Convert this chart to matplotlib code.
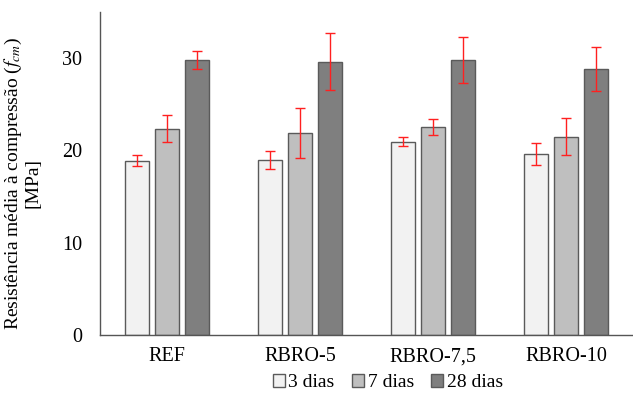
import numpy as np
import matplotlib
matplotlib.use('Agg')
import matplotlib.pyplot as plt

plt.rcParams.update({'font.family': ['Liberation Serif', 'DejaVu Serif'], 'font.size': 14,
                     'mathtext.fontset': 'stix'})

categories = ['REF', 'RBRO-5', 'RBRO-7,5', 'RBRO-10']
series = ['3 dias', '7 dias', '28 dias']
d3 = [18.85, 18.95, 20.95, 19.6]
d7 = [22.35, 21.85, 22.55, 21.45]
d28 = [29.8, 29.6, 29.8, 28.8]
e3 = [0.6, 1.0, 0.45, 1.2]
e7 = [1.5, 2.7, 0.85, 2.0]
e28 = [0.95, 3.1, 2.5, 2.4]
colors = ['#f2f2f2', '#bfbfbf', '#7f7f7f']

fig = plt.figure(figsize=(6.33, 3.94), dpi=100)
ax = fig.add_axes([0.158, 0.15, 0.842, 0.82])
x = np.arange(len(categories)) + 0.5
w = 0.18
for i, (vals, errs) in enumerate(zip([d3, d7, d28], [e3, e7, e28])):
    ax.bar(x + (i - 1) * 0.225, vals, w, color=colors[i], edgecolor='#5a5a5a', lw=1.0,
           label=series[i], zorder=2)
    ax.errorbar(x + (i - 1) * 0.225, vals, yerr=errs, fmt='none', ecolor='#ff2020',
                elinewidth=1.0, capsize=3.5, capthick=1.0, zorder=3)

ax.set_xlim(0, 4)
ax.set_ylim(0, 35)
ax.set_yticks([0, 10, 20, 30])
ax.set_xticks(x)
ax.set_xticklabels(categories, fontsize=14.5)
ax.tick_params(length=0, labelsize=14.5)
ax.tick_params(axis='y', pad=13)
ax.tick_params(axis='x', pad=9)
for s in ['top', 'right']: ax.spines[s].set_visible(False)
for s in ['left', 'bottom']:
    ax.spines[s].set_color('#555555'); ax.spines[s].set_linewidth(1.0)
ax.set_ylabel('Resistência média à compressão ($f_{cm}$)\n[MPa]', fontsize=14, labelpad=6,
              linespacing=1.0, multialignment='center')
ax.yaxis.set_label_coords(-0.11, 0.47)
fig.legend(loc='center', bbox_to_anchor=(0.613, 0.028), ncol=3, frameon=False,
           handlelength=0.6, handleheight=0.6, handletextpad=0.2, columnspacing=0.9, fontsize=14)
fig.savefig('out.png', dpi=100)
